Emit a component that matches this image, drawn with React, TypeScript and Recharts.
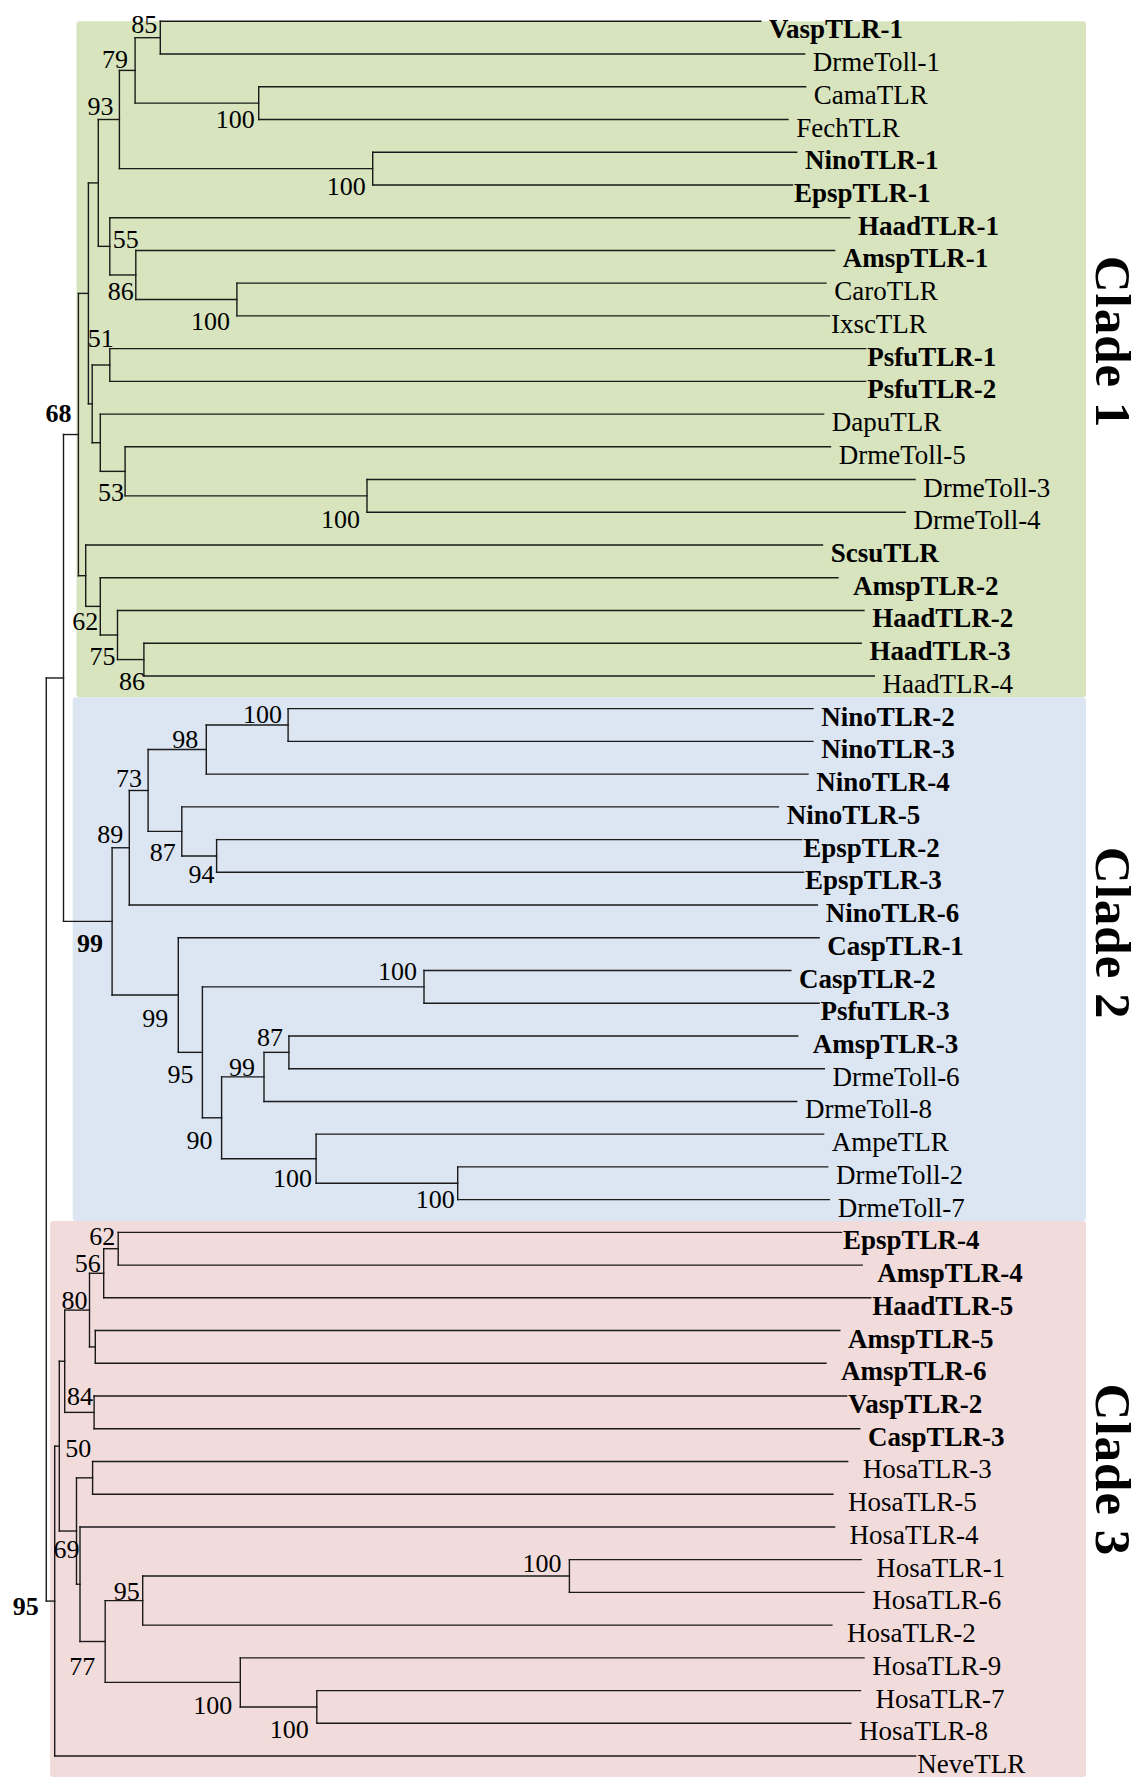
import { ComposedChart, XAxis, YAxis, ReferenceLine, ReferenceArea, Scatter } from 'recharts';

// taxa, top to bottom
const leafNames = [
  'VaspTLR-1', 'DrmeToll-1', 'CamaTLR', 'FechTLR', 'NinoTLR-1', 'EpspTLR-1', 'HaadTLR-1', 'AmspTLR-1',
  'CaroTLR', 'IxscTLR', 'PsfuTLR-1', 'PsfuTLR-2', 'DapuTLR', 'DrmeToll-5', 'DrmeToll-3', 'DrmeToll-4',
  'ScsuTLR', 'AmspTLR-2', 'HaadTLR-2', 'HaadTLR-3', 'HaadTLR-4',
  'NinoTLR-2', 'NinoTLR-3', 'NinoTLR-4', 'NinoTLR-5', 'EpspTLR-2', 'EpspTLR-3', 'NinoTLR-6', 'CaspTLR-1',
  'CaspTLR-2', 'PsfuTLR-3', 'AmspTLR-3', 'DrmeToll-6', 'DrmeToll-8', 'AmpeTLR', 'DrmeToll-2', 'DrmeToll-7',
  'EpspTLR-4', 'AmspTLR-4', 'HaadTLR-5', 'AmspTLR-5', 'AmspTLR-6', 'VaspTLR-2', 'CaspTLR-3', 'HosaTLR-3',
  'HosaTLR-5', 'HosaTLR-4', 'HosaTLR-1', 'HosaTLR-6', 'HosaTLR-2', 'HosaTLR-9', 'HosaTLR-7', 'HosaTLR-8',
  'NeveTLR',
];

// distance of each tip from the root
const leafTips = [
  714.5, 758.3, 759.3, 741.7, 750.4, 746.2, 803.5, 788.3, 779.7, 783.1, 819.4, 819.4, 777.3, 784.2, 868.7, 859,
  776.2, 791.7, 817.7, 814.9, 828,
  766.6, 766.6, 761.7, 732.1, 755.5, 757.3, 771.1, 772.8, 744.5, 772.8, 751.4, 778, 750.4, 777.3, 781.4, 783.1,
  795.2, 815.9, 824.5, 793.5, 779.7, 800.4, 813.5, 801.4, 786.6, 788.3, 814.9, 817.7, 785.6, 817.7, 814.2, 804.5,
  869.4,
];

// 1 = sequence from this study (bold)
const leafBold = [
  1, 0, 0, 0, 1, 1, 1, 1, 0, 0, 1, 1, 0, 0, 0, 0, 1, 1, 1, 1, 0,
  1, 1, 1, 1, 1, 1, 1, 1, 1, 1, 1, 0, 0, 0, 0, 0,
  1, 1, 1, 1, 1, 1, 1, 0, 0, 0, 0, 0, 0, 0, 0, 0, 0,
];

// [id, depth, child A, child B, bootstrap, bold]
type Kid = string | number;
const treeNodes: [string, number, Kid, Kid, number | null, boolean?][] = [
  ['root', 0, 'c12', 'c3', null],
  ['c12', 17.2, 'c1', 'c2', null],
  ['c1', 32.1, 'J', 'Q', 68, true],
  ['J', 42.1, 'F', 'L', null],
  ['F', 52, 'D', 'G', null],
  ['D', 73.1, 'B', 'E', 93],
  ['B', 88.8, 'A', 'C', 79],
  ['A', 114, 0, 1, 85],
  ['C', 212.4, 2, 3, 100],
  ['E', 326.4, 4, 5, 100],
  ['G', 63.5, 6, 'H', 55],
  ['H', 89.5, 7, 'I', 86],
  ['I', 190.6, 8, 9, 100],
  ['L', 45.9, 'M', 'N', null],
  ['M', 63.5, 10, 11, 51],
  ['N', 54, 12, 'O', null],
  ['O', 78.8, 13, 'P', 53],
  ['P', 320.7, 14, 15, 100],
  ['Q', 39.4, 16, 'R', null],
  ['R', 54, 17, 'S', 62],
  ['S', 71.2, 18, 'T', 75],
  ['T', 97.6, 19, 20, 86],
  ['c2', 65.8, 'U', 'V', 99, true],
  ['U', 83, 'W', 27, 89],
  ['W', 101.8, 'X', 'Y', 73],
  ['X', 160, 'Z', 23, 98],
  ['Z', 241.8, 21, 22, 100],
  ['Y', 135.5, 24, 'AA', 87],
  ['AA', 170.3, 25, 26, 94],
  ['V', 132, 28, 'BB', 99],
  ['BB', 156.1, 'CC', 'DD', 95],
  ['CC', 377.7, 29, 30, 100],
  ['DD', 175.3, 'EE', 'FF', 90],
  ['EE', 217.7, 'GG', 33, 99],
  ['GG', 242.6, 31, 32, 87],
  ['FF', 269.8, 34, 'HH', 100],
  ['HH', 411.4, 35, 36, 100],
  ['c3', 8.4, 'OO', 53, 95, true],
  ['OO', 13, 'MM', 'PP', 50],
  ['MM', 18.4, 'KK', 'NN', null],
  ['KK', 43.2, 'JJ', 'LL', 80],
  ['JJ', 57.4, 'II', 39, 56],
  ['II', 71.9, 37, 38, 62],
  ['LL', 49, 40, 41, null],
  ['NN', 47.8, 42, 43, 84],
  ['PP', 30.2, 'QQ', 'UU', 69],
  ['QQ', 46.3, 44, 45, null],
  ['UU', 33.7, 46, 'RR', null],
  ['RR', 58.9, 'SS', 'TT', 77],
  ['SS', 96.4, 'VV', 49, 95],
  ['VV', 523.1, 47, 48, 100],
  ['TT', 194, 50, 'WW', 100],
  ['WW', 270.5, 51, 52, 100],
];

const cladeNames = ['Clade 1', 'Clade 2', 'Clade 3'];
const cladeFirstLeaf = [0, 21, 37];
const cladeLastLeaf = [20, 36, 53];

// --- styling ---
const FONT = "'Liberation Serif', 'Times New Roman', serif";
const cladeFills = ['#D7E4BD', '#DCE6F2', '#F2DCDB'];
const panelLeft = [30.2, 26.4, 3.8];
const panelRight = 1039.7;
const cladeLabelY = [9.8, 27.86, 44.26];
const X_DOMAIN: [number, number] = [-46.3, 1094.7];
const Y_DOMAIN: [number, number] = [-0.651, 53.64];
// leading blanks before each taxon name (as in the MEGA export)
const leafPad = [
  1, 1, 1, 1, 1, 0, 1, 1, 1, 0, 0, 0, 1, 1, 1, 1, 1, 2, 1, 1, 1,
  1, 1, 1, 1, 0, 0, 1, 1, 1, 0, 2, 1, 1, 1, 1, 1,
  0, 2, 0, 1, 2, 0, 1, 2, 2, 2, 2, 1, 2, 1, 2, 1, 0,
];
// bootstrap text offsets from the node: [dx, dy, anchor]
const supportOffset: Record<string, [number, number, 'start' | 'end']> = {
  c1: [-7, -12.5, 'end'], c2: [-9, 31, 'end'], c3: [-16, 13.5, 'end'],
  A: [-3, -4.5, 'end'], B: [-7, -2.5, 'end'], C: [-4, 24.5, 'end'], D: [-6, -4.5, 'end'],
  E: [-7, 26, 'end'], G: [3, 1.5, 'start'], H: [-2, 25, 'end'], I: [-7, 30, 'end'],
  M: [4, -18, 'end'], O: [-1, 30, 'end'], P: [-7, 32, 'end'], R: [-2, 23.5, 'end'],
  S: [-2, 29.5, 'end'], T: [1, 30.5, 'end'],
  Z: [-6, -2.5, 'end'], X: [-8, -2, 'end'], W: [-6, -3, 'end'], U: [-6, -5, 'end'],
  Y: [-6, 30, 'end'], AA: [-2, 27, 'end'], V: [-10, 31.5, 'end'], CC: [-7, -6.5, 'end'],
  GG: [-6, -6, 'end'], EE: [-9, -1, 'end'], BB: [-9, 30.5, 'end'], DD: [-9, 31.5, 'end'],
  FF: [-4, 28, 'end'], HH: [-3, 24.5, 'end'],
  II: [-3, -4, 'end'], JJ: [-3, -1, 'end'], KK: [-2, -1, 'end'], NN: [-1, -7.5, 'end'],
  OO: [6, 11, 'start'], PP: [3, 27, 'end'], SS: [-3, -1, 'end'], VV: [-8, -4, 'end'],
  RR: [-10, 33.5, 'end'], TT: [-8, 32, 'end'], WW: [-8, 31, 'end'],
};

// --- layout: leaf order gives y, node depth gives x ---
const byId = new Map(treeNodes.map((n) => [n[0], n]));
const depthOf = (k: Kid): number => (typeof k === 'number' ? leafTips[k] : byId.get(k)![1]);
const yCache = new Map<Kid, number>();
const yOf = (k: Kid): number => {
  if (typeof k === 'number') return k;
  if (yCache.has(k)) return yCache.get(k)!;
  const n = byId.get(k)!;
  const y = (yOf(n[2]) + yOf(n[3])) / 2;
  yCache.set(k, y);
  return y;
};

const segments: { x: number; y: number }[][] = [];
treeNodes.forEach(([id, d, a, b]) => {
  segments.push([{ x: d, y: yOf(a) }, { x: d, y: yOf(b) }]);
  [a, b].forEach((k) => segments.push([{ x: d, y: yOf(k) }, { x: depthOf(k), y: yOf(k) }]));
});

const leafPoints = leafNames.map((name, i) => ({ x: leafTips[i], y: i, name, bold: leafBold[i], pad: leafPad[i] }));
const supportPoints = treeNodes
  .filter((n) => n[4] != null)
  .map(([id, d, , , s, strong]) => ({ x: d, y: yOf(id), text: String(s), strong: !!strong, off: supportOffset[id] }));
const cladePoints = cladeNames.map((name, i) => ({ x: panelRight, y: cladeLabelY[i], name }));

const LeafText = (p: any) => {
  const d = p.payload ?? p;
  return (
    <text x={p.cx + 1.5 + d.pad * 6.75} y={p.cy + 17} fontFamily={FONT} fontSize={27}
      fontWeight={d.bold ? 'bold' : 'normal'} fill="#000">
      {d.name}
    </text>
  );
};

const SupportText = (p: any) => {
  const d = p.payload ?? p;
  const [dx, dy, anchor] = d.off;
  return (
    <text x={p.cx + dx} y={p.cy + dy} textAnchor={anchor} fontFamily={FONT} fontSize={26}
      fontWeight={d.strong ? 'bold' : 'normal'} fill="#000">
      {d.text}
    </text>
  );
};

const CladeText = (p: any) => {
  const d = p.payload ?? p;
  const bx = p.cx + 10;
  return (
    <text x={bx} y={p.cy} transform={`rotate(90 ${bx} ${p.cy})`} textAnchor="middle" fontFamily={FONT}
      fontSize={51} letterSpacing={1} fontWeight="bold" fill="#000">
      {d.name}
    </text>
  );
};

export default function App() {
  return (
    <div style={{ width: 1141, height: 1777, background: '#fff' }}>
      <style>{'body{margin:0}'}</style>
      <ComposedChart width={1141} height={1777} margin={{ top: 0, right: 0, bottom: 0, left: 0 }}>
        <XAxis type="number" dataKey="x" domain={X_DOMAIN} hide allowDataOverflow />
        <YAxis type="number" dataKey="y" domain={Y_DOMAIN} reversed hide allowDataOverflow />
        {cladeNames.map((c, i) => (
          <ReferenceArea
            key={c}
            x1={panelLeft[i]}
            x2={panelRight}
            y1={i === 0 ? cladeFirstLeaf[i] : cladeLastLeaf[i - 1] + 0.65}
            y2={i === cladeNames.length - 1 ? Y_DOMAIN[1] : cladeLastLeaf[i] + 0.65}
            fill={cladeFills[i]}
            fillOpacity={1}
            stroke="none"
            radius={3}
            ifOverflow="visible"
          />
        ))}
        {segments.map((s, i) => (
          <ReferenceLine key={i} segment={s} stroke="#1a1a1a" strokeWidth={1.4} strokeLinecap="square" ifOverflow="visible" />
        ))}
        <Scatter data={leafPoints} shape={LeafText} isAnimationActive={false} />
        <Scatter data={supportPoints} shape={SupportText} isAnimationActive={false} />
        <Scatter data={cladePoints} shape={CladeText} isAnimationActive={false} />
      </ComposedChart>
    </div>
  );
}
